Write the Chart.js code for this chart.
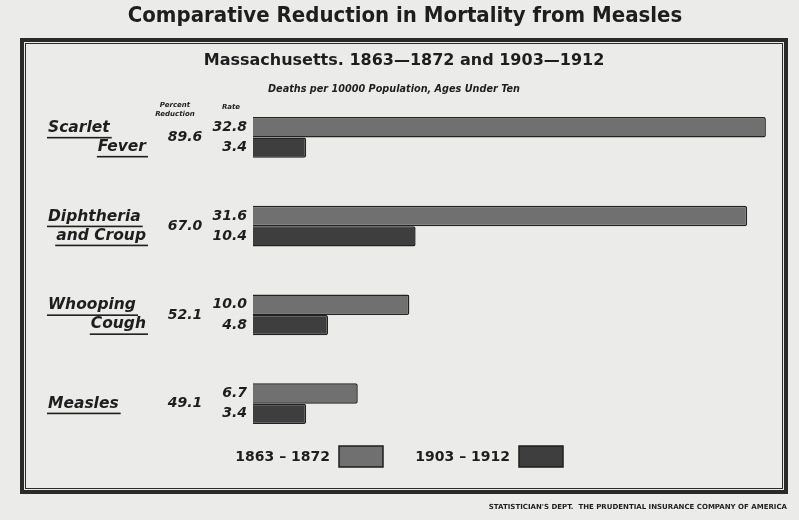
<!DOCTYPE html>
<html>
<head>
<meta charset="utf-8">
<script src="https://cdn.jsdelivr.net/npm/chart.js@4.4.0/dist/chart.umd.min.js"></script>
<style>
  html, body { margin: 0; padding: 0; background: #ebebe9; }
  #wrap { width: 799px; height: 520px; position: relative; }
</style>
</head>
<body>
<div id="wrap"><canvas id="chart" width="799" height="520"></canvas></div>
<script>
// data
const diseases = [['Scarlet', 'Fever'], ['Diphtheria', 'and Croup'], ['Whooping', 'Cough'], ['Measles']];
const rate1863 = [32.8, 31.6, 10.0, 6.7];
const rate1903 = [3.4, 10.4, 4.8, 3.4];
const pctReduction = ['89.6', '67.0', '52.1', '49.1'];
const periods = ['1863 \u2013 1872', '1903 \u2013 1912'];

const ink = '#1e1e1e';

// draws frame, titles, labels and legend around the bars
const platePlugin = {
  id: 'plate',
  beforeDraw(chart) {
    const ctx = chart.ctx;
    ctx.save();
    ctx.fillStyle = '#ebebe9';
    ctx.fillRect(0, 0, chart.width, chart.height);
    ctx.strokeStyle = '#2a2a2a';
    ctx.lineWidth = 4;
    ctx.strokeRect(22, 40, 764, 452);
    ctx.lineWidth = 1;
    ctx.strokeRect(25.5, 43.5, 757, 445);
    ctx.restore();
  },
  afterDraw(chart) {
    const ctx = chart.ctx;
    const y = chart.scales.y;
    ctx.save();
    ctx.fillStyle = ink;
    ctx.textBaseline = 'middle';

    ctx.textAlign = 'center';
    ctx.font = 'bold 22px "DejaVu Sans Condensed", "DejaVu Sans"';
    ctx.fillText('Comparative Reduction in Mortality from Measles', 405, 16);
    ctx.font = 'bold 16px "DejaVu Sans"';
    ctx.fillText('Massachusetts. 1863\u20141872 and 1903\u20141912', 404, 61);
    ctx.font = 'italic bold 9.7px "DejaVu Sans"';
    ctx.fillText('Deaths per 10000 Population, Ages Under Ten', 394, 89);

    ctx.font = 'italic bold 7px "DejaVu Sans"';
    ctx.fillText('Percent', 175, 105);
    ctx.fillText('Reduction', 175, 114);
    ctx.fillText('Rate', 231, 107);

    const meta0 = chart.getDatasetMeta(0);
    const meta1 = chart.getDatasetMeta(1);
    diseases.forEach((lines, i) => {
      const cy = y.getPixelForValue(i);
      ctx.font = 'italic bold 15.5px "DejaVu Sans"';
      ctx.textAlign = 'left';
      const lh = 19;
      const start = cy - (lines.length - 1) * lh / 2;
      lines.forEach((t, j) => {
        const ly = start + j * lh;
        const w = ctx.measureText(t).width;
        const lx = j === 0 ? 48 : 146 - w;
        ctx.fillText(t, lx, ly);
        ctx.fillRect(lx - 1, ly + 9, w + 3, 1.6);
      });
      ctx.font = 'italic bold 14px "DejaVu Sans"';
      ctx.textAlign = 'center';
      ctx.fillText(pctReduction[i], 185, cy);
      ctx.textAlign = 'right';
      ctx.fillText(rate1863[i].toFixed(1), 247, meta0.data[i].y);
      ctx.fillText(rate1903[i].toFixed(1), 247, meta1.data[i].y);
    });

    // legend
    ctx.font = 'bold 14px "DejaVu Sans"';
    ctx.textAlign = 'right';
    const legend = [[330, 339, chart.data.datasets[0].backgroundColor], [510, 519, chart.data.datasets[1].backgroundColor]];
    periods.forEach((p, i) => {
      const [tx, sx, col] = legend[i];
      ctx.fillText(p, tx, 457);
      ctx.fillStyle = col;
      ctx.fillRect(sx, 446, 44, 21);
      ctx.strokeStyle = ink;
      ctx.lineWidth = 1.5;
      ctx.strokeRect(sx, 446, 44, 21);
      ctx.fillStyle = ink;
    });

    ctx.font = 'bold 7px "DejaVu Sans"';
    ctx.textAlign = 'right';
    ctx.fillText("STATISTICIAN'S DEPT.  THE PRUDENTIAL INSURANCE COMPANY OF AMERICA", 787, 507);
    ctx.restore();
  }
};

new Chart(document.getElementById('chart'), {
  type: 'bar',
  data: {
    labels: diseases.map(d => d.join(' ')),
    datasets: [
      { label: periods[0], data: rate1863, backgroundColor: '#707070', borderColor: '#222', borderWidth: 1.5, borderRadius: 2 },
      { label: periods[1], data: rate1903, backgroundColor: '#3e3e3e', borderColor: '#222', borderWidth: 1.5, borderRadius: 2 }
    ]
  },
  options: {
    indexAxis: 'y',
    responsive: false,
    animation: false,
    devicePixelRatio: 1,
    layout: { padding: { left: 253, right: 30, top: 93, bottom: 72 } },
    datasets: { bar: { categoryPercentage: 0.46, barPercentage: 1 } },
    plugins: { legend: { display: false }, tooltip: { enabled: false } },
    scales: {
      x: { display: false, min: 0, max: 33 },
      y: { display: false }
    }
  },
  plugins: [platePlugin]
});
</script>
</body>
</html>
